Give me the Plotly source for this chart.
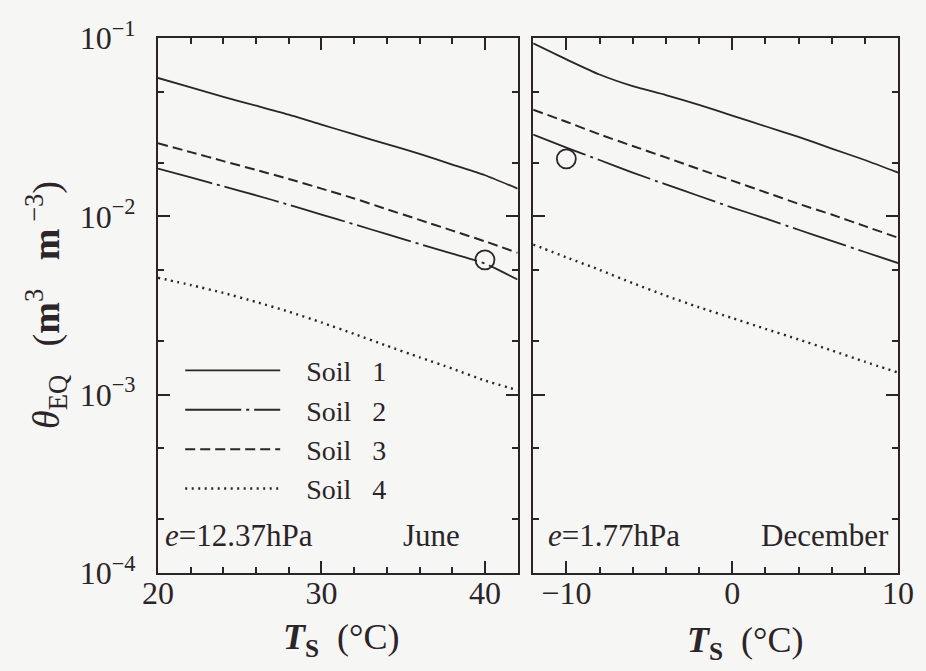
import plotly.graph_objects as go

# June panel: soil surface temperature (deg C) and equilibrium water content
june_T = [20, 22, 24, 26, 28, 30, 32, 34, 36, 38, 40, 42]
june_soil1 = [0.0597, 0.0528, 0.0468, 0.0417, 0.0372, 0.0327, 0.0288, 0.0254, 0.0224, 0.0195, 0.0170, 0.0143]
june_soil2 = [0.01854, 0.01652, 0.01472, 0.01312, 0.01161, 0.01023, 0.00902, 0.00794, 0.00700, 0.00617, 0.00543, 0.00442]
june_soil3 = [0.0257, 0.0229, 0.0204, 0.0182, 0.0162, 0.0143, 0.0126, 0.01096, 0.00955, 0.00832, 0.00724, 0.00624]
june_soil4 = [0.00452, 0.00412, 0.00372, 0.00331, 0.00292, 0.00254, 0.00219, 0.00188, 0.00162, 0.00140, 0.00120, 0.00106]
june_obs_T = [40]
june_obs = [0.0057]

# December panel
dec_T = [-12, -10, -8, -6, -4, -2, 0, 2, 4, 6, 8, 10]
dec_soil1 = [0.0933, 0.0759, 0.0624, 0.0537, 0.0479, 0.0422, 0.0367, 0.0320, 0.0279, 0.0240, 0.0207, 0.0176]
dec_soil2 = [0.0287, 0.0243, 0.0207, 0.0176, 0.0151, 0.0130, 0.0112, 0.00973, 0.00841, 0.00728, 0.00631, 0.00547]
dec_soil3 = [0.0396, 0.0339, 0.0288, 0.0248, 0.0214, 0.0184, 0.01585, 0.01365, 0.01175, 0.01023, 0.00881, 0.00759]
dec_soil4 = [0.00695, 0.00589, 0.00501, 0.00422, 0.00359, 0.00309, 0.00269, 0.00234, 0.00204, 0.00177, 0.00153, 0.00133]
dec_obs_T = [-10]
dec_obs = [0.021]

NB = "\u00a0"
soil_names = [NB * 3 + "Soil" + NB * 3 + str(k) for k in (1, 2, 3, 4)]
y_tickvals = [1e-4, 1e-3, 1e-2, 1e-1]
y_ticktext = ["10<sup>\u22124</sup>", "10<sup>\u22123</sup>", "10<sup>\u22122</sup>", "10<sup>\u22121</sup>"]
y_minor = [2e-4, 5e-4, 2e-3, 5e-3, 2e-2, 5e-2]

INK = "#2b2428"
BG = "#f6f6f4"
SERIF = "'Liberation Serif', 'Times New Roman', serif"

dashes = ["solid", "56px,5px,3px,5px", "10px,5px", "2px,4.5px"]
widths = [1.8, 1.8, 2.0, 2.4]

fig = go.Figure()

june_series = [june_soil1, june_soil2, june_soil3, june_soil4]
dec_series = [dec_soil1, dec_soil2, dec_soil3, dec_soil4]

for i, (name, ys) in enumerate(zip(soil_names, june_series)):
    fig.add_trace(go.Scatter(
        x=june_T, y=ys, mode="lines", name=name, legendgroup=name,
        line=dict(color=INK, width=widths[i], dash=dashes[i], shape="spline", smoothing=0.6),
        xaxis="x", yaxis="y", showlegend=True))

for i, (name, ys) in enumerate(zip(soil_names, dec_series)):
    fig.add_trace(go.Scatter(
        x=dec_T, y=ys, mode="lines", name=name, legendgroup=name,
        line=dict(color=INK, width=widths[i], dash=dashes[i], shape="spline", smoothing=0.6),
        xaxis="x2", yaxis="y2", showlegend=False))

marker_style = dict(symbol="circle-open", size=19, color=INK, line=dict(width=1.8, color=INK))
fig.add_trace(go.Scatter(x=june_obs_T, y=june_obs, mode="markers", marker=marker_style,
                         xaxis="x", yaxis="y", showlegend=False))
fig.add_trace(go.Scatter(x=dec_obs_T, y=dec_obs, mode="markers", marker=marker_style,
                         xaxis="x2", yaxis="y2", showlegend=False))

tick_font = dict(family=SERIF, size=32, color=INK)

common_x = dict(
    showgrid=False, zeroline=False, showline=True, linecolor=INK, linewidth=2.2,
    mirror="ticks", ticks="inside", ticklen=12, tickwidth=1.8, tickcolor=INK,
    tickfont=tick_font, ticklabelstandoff=-10,
    minor=dict(dtick=2, ticks="inside", ticklen=6, tickwidth=1.5, tickcolor=INK),
)
common_y = dict(
    type="log", range=[-4, -1], showgrid=False, zeroline=False, showline=True,
    linecolor=INK, linewidth=2.2, mirror="ticks", ticks="inside", ticklen=12,
    tickwidth=1.8, tickcolor=INK, tickvals=y_tickvals, ticktext=y_ticktext,
    tickfont=tick_font,
    minor=dict(tickvals=y_minor, ticks="inside", ticklen=6, tickwidth=1.5, tickcolor=INK),
)

fig.update_layout(
    width=926, height=671,
    margin=dict(l=158, r=19, t=38, b=98),
    paper_bgcolor=BG, plot_bgcolor=BG,
    font=dict(family=SERIF, color=INK),
    xaxis=dict(domain=[0, 0.486], range=[20, 42], tickvals=[20, 30, 40], **common_x),
    xaxis2=dict(domain=[0.507, 1], range=[-12, 10], tickvals=[-10, 0, 10],
                ticktext=["\u221210", "0", "10"], **common_x),
    yaxis=dict(anchor="x", ticklabelstandoff=14, **common_y),
    yaxis2=dict(anchor="x2", showticklabels=False, **common_y),
    legend=dict(
        x=0.03, y=0.425, xanchor="left", yanchor="top",
        bgcolor="rgba(0,0,0,0)", font=dict(family=SERIF, size=28, color=INK),
        itemwidth=95, tracegroupgap=0, traceorder="grouped",
    ),
    showlegend=True,
)

ann_font = dict(family=SERIF, size=31, color=INK)
fig.add_annotation(xref="x domain", yref="y domain", x=0.015, y=0.033, xanchor="left", yanchor="bottom",
                   text="<i>e</i>=12.37hPa", showarrow=False, font=ann_font)
fig.add_annotation(xref="x domain", yref="y domain", x=0.76, y=0.033, xanchor="center", yanchor="bottom",
                   text="June", showarrow=False, font=ann_font)
fig.add_annotation(xref="x2 domain", yref="y2 domain", x=0.035, y=0.033, xanchor="left", yanchor="bottom",
                   text="<i>e</i>=1.77hPa", showarrow=False, font=ann_font)
fig.add_annotation(xref="x2 domain", yref="y2 domain", x=0.98, y=0.033, xanchor="right", yanchor="bottom",
                   text="December", showarrow=False, font=ann_font)

title_font = dict(family=SERIF, size=36, color=INK)
x_title = "<b><i>T</i></b><sub><b>S</b></sub>" + NB * 2 + "(\u00b0C)"
fig.add_annotation(xref="x domain", yref="paper", x=0.51, y=-0.125, xanchor="center", yanchor="middle",
                   text=x_title, showarrow=False, font=title_font)
fig.add_annotation(xref="x2 domain", yref="paper", x=0.58, y=-0.13, xanchor="center", yanchor="middle",
                   text=x_title, showarrow=False, font=title_font)
fig.add_annotation(xref="paper", yref="paper", x=-0.152, y=0.5, xanchor="center", yanchor="middle",
                   textangle=-90, showarrow=False, font=dict(family=SERIF, size=38, color=INK),
                   text="<i>\u03b8</i><sub>EQ</sub>" + NB * 3 + "(<b>m</b><sup>3</sup>" + NB * 3
                        + "<b>m</b><sup>" + NB + "\u22123</sup>)")

fig.write_html("out.html")
